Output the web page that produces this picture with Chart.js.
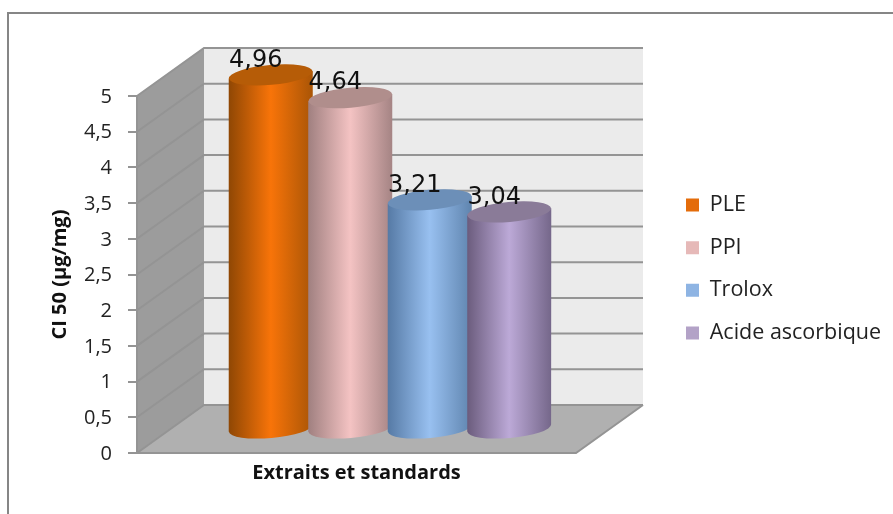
<!DOCTYPE html>
<html>
<head>
<meta charset="utf-8">
<title>CI 50</title>
<script src="https://cdn.jsdelivr.net/npm/chart.js@4"></script>
<style>
  html, body { margin: 0; padding: 0; background: #fff; }
  canvas { display: block; }
</style>
</head>
<body>
<canvas id="ciChart" width="893" height="514"></canvas>
<script>
const groupLabel = ['Extraits et standards'];
const seriesNames = ['PLE', 'PPI', 'Trolox', 'Acide ascorbique'];
const seriesValues = [4.96, 4.64, 3.21, 3.04];

const legendColors = ['#e46c0a', '#e6b9b8', '#8eb4e3', '#b3a2c7'];
// edge, highlight, edge, cap
const shades = [
  ['#8f4704', '#f87409', '#a95506', '#b65c07'],
  ['#a08080', '#f4c3c3', '#a58484', '#b08e8c'],
  ['#567aa5', '#98c0f0', '#5f84ae', '#6c8fb8'],
  ['#6b5c7d', '#bca9d7', '#75678a', '#8a7b98']
];

// how far the back wall sits behind the front plane
const depthX = 67;
const depthY = -48;
const capRy = 10;
const capTilt = -5 * Math.PI / 180;
const lineColor = '#949494';
const legendPad = 21.2;

const comma = v => String(v).replace('.', ',');

const drawCylinder = (ctx, bar, colors) => {
  const cx = bar.x + depthX / 2;
  const top = bar.y + depthY / 2;
  const base = bar.base + depthY / 2;
  const rx = bar.width / 2;
  const lean = rx * Math.sin(capTilt);

  const grad = ctx.createLinearGradient(cx - rx, 0, cx + rx, 0);
  grad.addColorStop(0, colors[0]);
  grad.addColorStop(0.5, colors[1]);
  grad.addColorStop(1, colors[2]);

  ctx.beginPath();
  ctx.moveTo(cx - rx, top - lean);
  ctx.lineTo(cx - rx, base - lean);
  ctx.ellipse(cx, base, rx, capRy, capTilt, Math.PI, 0, true);
  ctx.lineTo(cx + rx, top + lean);
  ctx.closePath();
  ctx.fillStyle = grad;
  ctx.fill();

  ctx.beginPath();
  ctx.ellipse(cx, top, rx, capRy, capTilt, 0, Math.PI * 2);
  ctx.fillStyle = colors[3];
  ctx.fill();
};

const stage3d = {
  id: 'stage3d',
  beforeDraw(chart) {
    const { ctx, width } = chart;
    ctx.save();
    ctx.strokeStyle = '#868686';
    ctx.lineWidth = 2;
    ctx.beginPath();
    ctx.moveTo(8, chart.height);
    ctx.lineTo(8, 13);
    ctx.lineTo(width, 13);
    ctx.stroke();
    ctx.restore();
  },
  afterLayout(chart) {
    // legend sits apart from the plot, to the right of the floor;
    // it keeps a fixed slot in the layout and is widened here so the text isn't clipped
    const legend = chart.legend;
    legend.left = 686 - legendPad;
    legend.width = chart.width - legend.left;
    legend.right = chart.width;
    legend.top = 269 - legend.height / 2;
    legend.bottom = legend.top + legend.height;
  },
  beforeDatasetsDraw(chart) {
    const { ctx, chartArea: a, scales } = chart;
    const y = scales.y;
    const y0 = y.getPixelForValue(0);
    const yMax = y.getPixelForValue(y.max);

    ctx.save();
    // back wall
    ctx.fillStyle = '#ebebeb';
    ctx.fillRect(a.left + depthX, yMax + depthY, a.right - a.left, y0 - yMax);
    // side wall
    ctx.fillStyle = '#9c9c9c';
    ctx.beginPath();
    ctx.moveTo(a.left, yMax);
    ctx.lineTo(a.left + depthX, yMax + depthY);
    ctx.lineTo(a.left + depthX, y0 + depthY);
    ctx.lineTo(a.left, y0);
    ctx.closePath();
    ctx.fill();
    // floor
    ctx.fillStyle = '#b0b0b0';
    ctx.beginPath();
    ctx.moveTo(a.left, y0);
    ctx.lineTo(a.right, y0);
    ctx.lineTo(a.right + depthX, y0 + depthY);
    ctx.lineTo(a.left + depthX, y0 + depthY);
    ctx.closePath();
    ctx.fill();

    // grid runs along the side wall then across the back
    ctx.strokeStyle = lineColor;
    ctx.lineWidth = 2;
    y.ticks.forEach(t => {
      const py = y.getPixelForValue(t.value);
      ctx.beginPath();
      ctx.moveTo(a.left, py);
      ctx.lineTo(a.left + depthX, py + depthY);
      ctx.lineTo(a.right + depthX, py + depthY);
      ctx.stroke();
    });
    // front edges of the floor
    ctx.beginPath();
    ctx.moveTo(a.left, yMax);
    ctx.lineTo(a.left, y0);
    ctx.lineTo(a.right, y0);
    ctx.lineTo(a.right + depthX, y0 + depthY);
    ctx.stroke();

    // cylinders go left to right, each overlapping the previous one
    const metas = chart.getSortedVisibleDatasetMetas();
    metas.forEach(meta => drawCylinder(ctx, meta.data[0], shades[meta.index]));

    ctx.fillStyle = '#111';
    ctx.font = '24px "DejaVu Sans"';
    ctx.textAlign = 'center';
    ctx.textBaseline = 'middle';
    metas.forEach(meta => {
      const bar = meta.data[0];
      const value = seriesValues[meta.index];
      ctx.fillText(value.toFixed(2).replace('.', ','), bar.x + depthX / 2 - 15, bar.y + depthY / 2 - 14.5);
    });
    ctx.restore();
    return false;
  }
};

new Chart(document.getElementById('ciChart'), {
  type: 'bar',
  data: {
    labels: groupLabel,
    datasets: seriesNames.map((name, i) => ({
      label: name,
      data: [seriesValues[i]],
      backgroundColor: legendColors[i],
      categoryPercentage: 0.7244,
      barPercentage: 1.057
    }))
  },
  options: {
    responsive: false,
    animation: false,
    layout: { padding: { top: 96, right: 217, bottom: 0, left: 0 } },
    scales: {
      x: {
        afterFit: s => { s.height = 61; },
        grid: { display: false },
        border: { display: false },
        ticks: { display: false },
        title: {
          display: true,
          text: 'Extraits et standards',
          color: '#111',
          font: { family: '"Open Sans"', size: 20, weight: 'bold' },
          padding: { top: 0, bottom: 29 }
        }
      },
      y: {
        min: 0,
        max: 5,
        afterFit: s => { s.width = 137; },
        border: { display: false },
        grid: { drawOnChartArea: false, color: lineColor, lineWidth: 2, tickLength: 9 },
        ticks: {
          stepSize: 0.5,
          padding: 16,
          labelOffset: 1,
          color: '#222',
          font: { family: '"Open Sans"', size: 20 },
          callback: v => comma(v)
        },
        title: {
          display: true,
          text: 'CI 50 (µg/mg)',
          color: '#111',
          font: { family: '"Open Sans"', size: 20, weight: 'bold' },
          padding: { top: 48, bottom: 0 }
        }
      }
    },
    plugins: {
      tooltip: { enabled: false },
      legend: {
        position: 'right',
        maxWidth: 100,
        labels: {
          boxWidth: 13,
          boxHeight: 13,
          padding: legendPad,
          color: '#222',
          font: { family: '"Open Sans"', size: 21.5 },
          sort: (a, b) => a.datasetIndex - b.datasetIndex
        }
      }
    }
  },
  plugins: [stage3d]
});
</script>
</body>
</html>
